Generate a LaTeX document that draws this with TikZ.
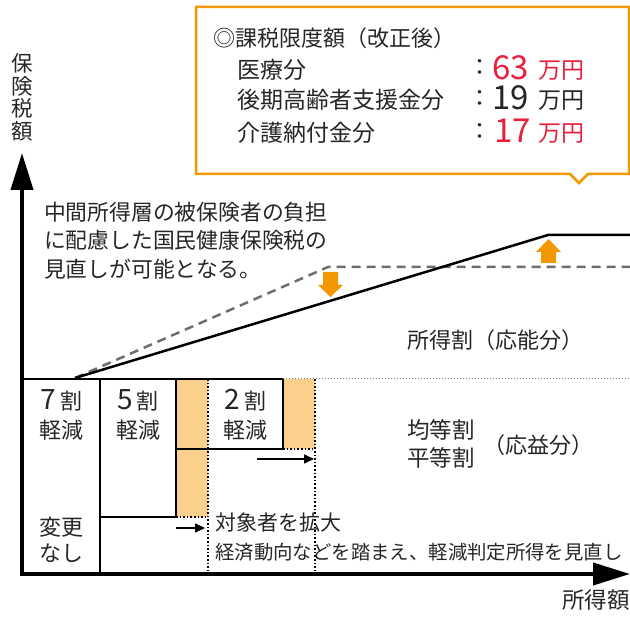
\documentclass[tikz,border=0pt]{standalone}
\usepackage{fontspec}
\setmainfont{Noto Sans CJK JP}
\usetikzlibrary{arrows.meta}
\definecolor{ora}{HTML}{F39800}
\definecolor{lora}{HTML}{FAD08C}
\definecolor{numred}{HTML}{E8203C}
\definecolor{txt}{HTML}{262626}
\definecolor{dashgray}{HTML}{6E6E6E}
\newcommand\myfs[1]{\fontsize{#1}{#1}\selectfont}
\begin{document}
\begin{tikzpicture}[x=1pt,y=-1pt,
  every node/.style={inner sep=0pt,text=txt},
  lbl/.style={font=\myfs{22}},
  boxline/.style={line width=2pt,black},
  dotline/.style={line width=1.6pt,black,dotted},
  axis/.style={line width=4pt,black,-{Triangle[length=37pt,width=22pt]}},
  smallarr/.style={line width=1.6pt,black,-{Triangle[length=10pt,width=9pt]}},
  blockarrow/.style={fill=ora,draw=none}]
\useasboundingbox (0,0) rectangle (630,617);
% coordinates
\coordinate (O) at (22,574);
\coordinate (Ostart) at (22,576);
\coordinate (ytip) at (22,153);
\coordinate (xstart) at (20,574);
\coordinate (xtip) at (630,574);
\coordinate (s0) at (75,378);
\coordinate (s1) at (548,235);
\coordinate (s2) at (630,235);
\coordinate (d1) at (328,267);
\coordinate (d2) at (630,267);
% orange strips
\fill[lora] (176,379) rectangle (208,517);
\fill[lora] (283,379) rectangle (315,449);
% box lines
\coordinate (t0) at (22,379);
\coordinate (t1) at (283,379);
\coordinate (t2) at (630,379);
\draw[boxline] (t0) -- (t1);
\draw[boxline] (100,379) -- (100,574);
\draw[boxline] (176,379) -- (176,517) -- (100,517);
\draw[boxline] (176,449) -- (283,449);
\draw[boxline] (283,379) -- (283,449);
\draw[line width=1pt,gray,dotted] (t1) -- (t2);
\draw[dotline] (208,379) -- (208,574);
\draw[dotline] (315,379) -- (315,574);
\draw[dotline] (283,449) -- (315,449);
\draw[dotline] (176,517) -- (208,517);
% small arrows
\coordinate (a1s) at (257,459);
\coordinate (a1e) at (314,459);
\coordinate (a2s) at (176,528);
\coordinate (a2e) at (205,528);
\draw[smallarr] (a1s) -- (a1e);
\draw[smallarr] (a2s) -- (a2e);
% curves
\draw[line width=2.5pt,dashgray,dash pattern=on 9pt off 6pt] (s0) -- (d1) -- (d2);
\draw[line width=2.5pt,black] (s0) -- (s1) -- (s2);
% orange block arrows
\fill[blockarrow] (323,272) -- (338,272) -- (338,285) -- (343,285) -- (330.5,297) -- (318,285) -- (323,285) -- cycle;
\fill[blockarrow] (541,263) -- (556,263) -- (556,252) -- (561,252) -- (548.5,239) -- (536,252) -- (541,252) -- cycle;
% axes
\draw[axis] (Ostart) -- (ytip);
\draw[axis] (xstart) -- (xtip);
% callout
\draw[ora,line width=2.5pt,fill=white,line join=miter] (196,7) -- (629,7) -- (629,174) -- (588,174) -- (579,183) -- (570,174) -- (196,174) -- cycle;
\node[anchor=west,font=\myfs{22}] (hdr) at (213,38) {◎課税限度額（改正後）};
\node[anchor=west,font=\myfs{23}] (i1) at (237,70) {医療分};
\node[anchor=west,font=\myfs{23}] (i2) at (237,100) {後期高齢者支援金分};
\node[anchor=west,font=\myfs{23}] (i3) at (237,133) {介護納付金分};
\node[font=\myfs{23}] (c1) at (480,68) {：};
\node[font=\myfs{23}] (c2) at (480,99) {：};
\node[font=\myfs{23}] (c3) at (480,132) {：};
\node[anchor=base west,text=numred,font=\myfs{33}] (n1) at (492,80) {63};
\node[anchor=base west,text=numred,font=\myfs{23}] (u1) at (538,79) {万円};
\node[anchor=base west,font=\myfs{33}] (n2) at (492,110) {19};
\node[anchor=base west,font=\myfs{23}] (u2) at (538,109) {万円};
\node[anchor=base west,text=numred,font=\myfs{33}] (n3) at (494,143) {17};
\node[anchor=base west,text=numred,font=\myfs{23}] (u3) at (538,142) {万円};
% axis labels
\node[align=center,font=\fontsize{21.5}{22.75}\selectfont] (ylab) at (22.5,97.5) {保\\険\\税\\額};
\node[anchor=east,font=\myfs{22.5}] (xlab) at (630,600) {所得額};
% description
\node[anchor=west,font=\myfs{21.8}] (dsc1) at (44,212) {中間所得層の被保険者の負担};
\node[anchor=west,font=\myfs{21.8}] (dsc2) at (44,240) {に配慮した国民健康保険税の};
\node[anchor=west,font=\myfs{21.8}] (dsc3) at (44,269) {見直しが可能となる。};
% region labels
\node[anchor=west,font=\myfs{22}] (shotoku) at (407,340) {所得割（応能分）};
\node[anchor=west,font=\myfs{22.5}] (kinto) at (407,430) {均等割};
\node[anchor=west,font=\myfs{22.5}] (byodo) at (407,458) {平等割};
\node[anchor=west,font=\myfs{22}] (oeki) at (483,445) {（応益分）};
% reduction labels
\node (r7) at (61.5,400) {\myfs{28}7\hspace{4pt}\myfs{22}割};
\node[lbl] (k7) at (61.5,430) {軽減};
\node (r5) at (138,400) {\myfs{28}5\hspace{4pt}\myfs{22}割};
\node[lbl] (k5) at (138,430) {軽減};
\node (r2) at (245.5,400) {\myfs{28}2\hspace{4pt}\myfs{22}割};
\node[lbl] (k2) at (245.5,430) {軽減};
\node[lbl] (hen) at (61,527) {変更};
\node[lbl] (nas) at (61,553) {なし};
\node[anchor=west,font=\myfs{21}] (tai) at (215,523) {対象者を拡大};
\node[anchor=west,font=\myfs{19.4}] (kei) at (215,552) {経済動向などを踏まえ、軽減判定所得を見直し};
\end{tikzpicture}
\end{document}
